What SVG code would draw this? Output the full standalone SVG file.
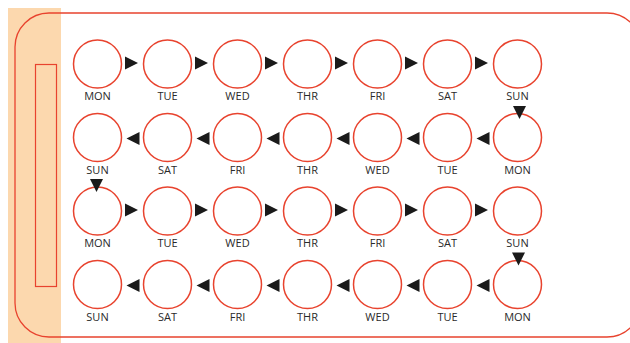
<svg xmlns="http://www.w3.org/2000/svg" width="630" height="343" viewBox="0 0 630 343">
<style>
.c{fill:#fff;stroke:#e8432e;stroke-width:1.5}
.t{font-family:"Open Sans","Liberation Sans",sans-serif;font-size:11px;fill:#2a2a2a;text-anchor:middle}
.a{fill:#1a1a1a}
</style>
<defs>
<polygon id="r" class="a" points="-6.5,-6.5 6.5,0 -6.5,6.5"/>
<polygon id="l" class="a" points="6.5,-6.5 -6.5,0 6.5,6.5"/>
<polygon id="d" class="a" points="-6.5,-6.5 6.5,-6.5 0,6.5"/>
</defs>
<rect x="0" y="0" width="630" height="343" fill="#fff"/>
<rect x="8" y="8" width="53" height="335" fill="#fcd8ae"/>
<rect x="15" y="13" width="626" height="324" rx="34" fill="none" stroke="#e8432e" stroke-width="1.3"/>
<rect x="35.5" y="64.5" width="21" height="222" fill="none" stroke="#e8432e" stroke-width="1.2"/>
<g id="row1">
<g id="r1c1"><circle class="c" cx="97.5" cy="64" r="24"/><text class="t" x="97.5" y="100">MON</text></g>
<g id="r1c2"><circle class="c" cx="167.5" cy="64" r="24"/><text class="t" x="167.5" y="100">TUE</text></g>
<g id="r1c3"><circle class="c" cx="237.5" cy="64" r="24"/><text class="t" x="237.5" y="100">WED</text></g>
<g id="r1c4"><circle class="c" cx="307.5" cy="64" r="24"/><text class="t" x="307.5" y="100">THR</text></g>
<g id="r1c5"><circle class="c" cx="377.5" cy="64" r="24"/><text class="t" x="377.5" y="100">FRI</text></g>
<g id="r1c6"><circle class="c" cx="447.5" cy="64" r="24"/><text class="t" x="447.5" y="100">SAT</text></g>
<g id="r1c7"><circle class="c" cx="517.5" cy="64" r="24"/><text class="t" x="517.5" y="100">SUN</text></g>
</g>
<g id="row2">
<g id="r2c1"><circle class="c" cx="97.5" cy="137.5" r="24"/><text class="t" x="97.5" y="173.5">SUN</text></g>
<g id="r2c2"><circle class="c" cx="167.5" cy="137.5" r="24"/><text class="t" x="167.5" y="173.5">SAT</text></g>
<g id="r2c3"><circle class="c" cx="237.5" cy="137.5" r="24"/><text class="t" x="237.5" y="173.5">FRI</text></g>
<g id="r2c4"><circle class="c" cx="307.5" cy="137.5" r="24"/><text class="t" x="307.5" y="173.5">THR</text></g>
<g id="r2c5"><circle class="c" cx="377.5" cy="137.5" r="24"/><text class="t" x="377.5" y="173.5">WED</text></g>
<g id="r2c6"><circle class="c" cx="447.5" cy="137.5" r="24"/><text class="t" x="447.5" y="173.5">TUE</text></g>
<g id="r2c7"><circle class="c" cx="517.5" cy="137.5" r="24"/><text class="t" x="517.5" y="173.5">MON</text></g>
</g>
<g id="row3">
<g id="r3c1"><circle class="c" cx="97.5" cy="211" r="24"/><text class="t" x="97.5" y="247">MON</text></g>
<g id="r3c2"><circle class="c" cx="167.5" cy="211" r="24"/><text class="t" x="167.5" y="247">TUE</text></g>
<g id="r3c3"><circle class="c" cx="237.5" cy="211" r="24"/><text class="t" x="237.5" y="247">WED</text></g>
<g id="r3c4"><circle class="c" cx="307.5" cy="211" r="24"/><text class="t" x="307.5" y="247">THR</text></g>
<g id="r3c5"><circle class="c" cx="377.5" cy="211" r="24"/><text class="t" x="377.5" y="247">FRI</text></g>
<g id="r3c6"><circle class="c" cx="447.5" cy="211" r="24"/><text class="t" x="447.5" y="247">SAT</text></g>
<g id="r3c7"><circle class="c" cx="517.5" cy="211" r="24"/><text class="t" x="517.5" y="247">SUN</text></g>
</g>
<g id="row4">
<g id="r4c1"><circle class="c" cx="97.5" cy="284.5" r="24"/><text class="t" x="97.5" y="320.5">SUN</text></g>
<g id="r4c2"><circle class="c" cx="167.5" cy="284.5" r="24"/><text class="t" x="167.5" y="320.5">SAT</text></g>
<g id="r4c3"><circle class="c" cx="237.5" cy="284.5" r="24"/><text class="t" x="237.5" y="320.5">FRI</text></g>
<g id="r4c4"><circle class="c" cx="307.5" cy="284.5" r="24"/><text class="t" x="307.5" y="320.5">THR</text></g>
<g id="r4c5"><circle class="c" cx="377.5" cy="284.5" r="24"/><text class="t" x="377.5" y="320.5">WED</text></g>
<g id="r4c6"><circle class="c" cx="447.5" cy="284.5" r="24"/><text class="t" x="447.5" y="320.5">TUE</text></g>
<g id="r4c7"><circle class="c" cx="517.5" cy="284.5" r="24"/><text class="t" x="517.5" y="320.5">MON</text></g>
</g>
<g id="connectors">
<use href="#r" x="131.5" y="63"/><use href="#r" x="201.5" y="63"/><use href="#r" x="271.5" y="63"/><use href="#r" x="341.5" y="63"/><use href="#r" x="411.5" y="63"/><use href="#r" x="481.5" y="63"/>
<use href="#d" x="519.5" y="112.5"/>
<use href="#l" x="133" y="138.5"/><use href="#l" x="203" y="138.5"/><use href="#l" x="273" y="138.5"/><use href="#l" x="343" y="138.5"/><use href="#l" x="413" y="138.5"/><use href="#l" x="483" y="138.5"/>
<use href="#d" x="96.5" y="185.5"/>
<use href="#r" x="131.5" y="210"/><use href="#r" x="201.5" y="210"/><use href="#r" x="271.5" y="210"/><use href="#r" x="341.5" y="210"/><use href="#r" x="411.5" y="210"/><use href="#r" x="481.5" y="210"/>
<use href="#d" x="518.5" y="259"/>
<use href="#l" x="133" y="285.5"/><use href="#l" x="203" y="285.5"/><use href="#l" x="273" y="285.5"/><use href="#l" x="343" y="285.5"/><use href="#l" x="413" y="285.5"/><use href="#l" x="483" y="285.5"/>
</g>
</svg>
